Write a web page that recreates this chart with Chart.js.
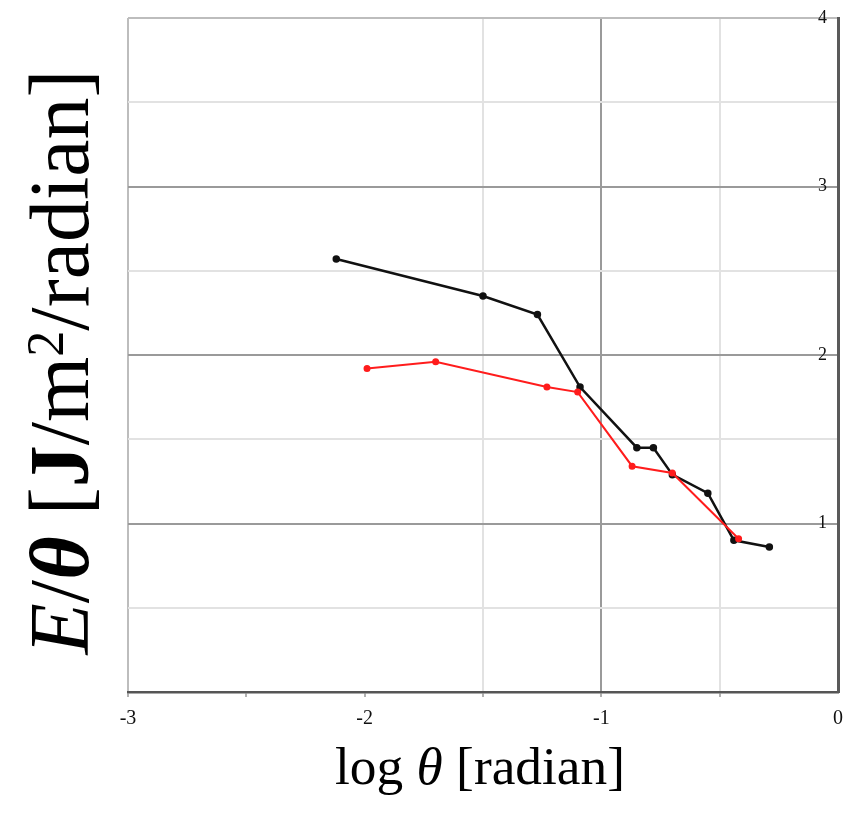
<!DOCTYPE html>
<html>
<head>
<meta charset="utf-8">
<script src="https://cdn.jsdelivr.net/npm/chart.js@4.4.1/dist/chart.umd.min.js"></script>
<style>
  html, body { margin: 0; padding: 0; background: #fff; }
  canvas { display: block; }
</style>
</head>
<body>
<canvas id="chart-energy" width="848" height="824"></canvas>
<script>
// log theta vs E/theta, two runs
const xBlack = [-2.12, -1.50, -1.27, -1.09, -0.85, -0.78, -0.70, -0.55, -0.44, -0.29];
const yBlack = [2.57, 2.35, 2.24, 1.81, 1.45, 1.45, 1.29, 1.18, 0.90, 0.86];
const xRed = [-1.99, -1.70, -1.23, -1.10, -0.87, -0.70, -0.42];
const yRed = [1.92, 1.96, 1.81, 1.78, 1.34, 1.30, 0.91];
const xTickLabels = [-3, -2, -1, 0];
const yTickLabels = [1, 2, 3, 4];

const SERIF = '"Liberation Serif", "DejaVu Serif", serif';

function toPoints(xs, ys) {
    return xs.map((x, i) => ({ x: x, y: ys[i] }));
}

// draws a run of text pieces with their own font styles, fitted to a width
function drawRich(ctx, segs, size, width) {
    const font = (s, sz) => (s.italic ? 'italic ' : '') + (s.bold ? 'bold ' : '') + sz + 'px ' + SERIF;
    const measure = (sz) => segs.reduce((w, s) => {
        ctx.font = font(s, s.sup ? sz * 0.62 : sz);
        return w + ctx.measureText(s.t).width;
    }, 0);
    if (width) size = size * width / measure(size);
    let x = -measure(size) / 2;
    segs.forEach(s => {
        const sz = s.sup ? size * 0.62 : size;
        ctx.font = font(s, sz);
        ctx.fillText(s.t, x, s.sup ? -size * 0.3 : 0);
        x += ctx.measureText(s.t).width;
    });
}

const axisTitles = {
    id: 'axisTitles',
    afterDraw(chart) {
        const ctx = chart.ctx;
        ctx.save();
        ctx.fillStyle = '#000';
        ctx.textBaseline = 'alphabetic';
        ctx.textAlign = 'left';

        ctx.save();
        ctx.translate(480, 784);
        drawRich(ctx, [
            { t: 'log ' }, { t: 'θ', italic: true }, { t: ' [radian]' }
        ], 40, 290);
        ctx.restore();

        ctx.save();
        ctx.translate(88, 362);
        ctx.rotate(-Math.PI / 2);
        drawRich(ctx, [
            { t: 'E', italic: true }, { t: '/' }, { t: 'θ', italic: true, bold: true },
            { t: ' [' }, { t: 'J', bold: true }, { t: '/m' }, { t: '2', sup: true },
            { t: '/radian]' }
        ], 56, 585);
        ctx.restore();

        ctx.restore();
    }
};

const ctx = document.getElementById('chart-energy').getContext('2d');

new Chart(ctx, {
    type: 'scatter',
    data: {
        datasets: [{
            label: 'red',
            data: toPoints(xRed, yRed),
            showLine: true,
            borderColor: '#ff1c1c',
            backgroundColor: '#ff1c1c',
            borderWidth: 2,
            pointRadius: 2.5,
            order: 0
        }, {
            label: 'black',
            data: toPoints(xBlack, yBlack),
            showLine: true,
            borderColor: '#111',
            backgroundColor: '#111',
            borderWidth: 2.5,
            pointRadius: 2.5,
            order: 1
        }]
    },
    options: {
        responsive: false,
        animation: false,
        devicePixelRatio: 1,
        layout: { padding: { left: 128, top: 18, right: 0, bottom: 0 } },
        plugins: {
            legend: { display: false },
            tooltip: { enabled: false }
        },
        scales: {
            x: {
                type: 'linear',
                position: 'bottom',
                min: -3,
                max: 0,
                afterFit: s => {
                    s.height = 132;
                    s.paddingLeft = 0;
                    s.paddingRight = 0;
                },
                ticks: {
                    stepSize: 0.5,
                    autoSkip: false,
                    maxRotation: 0,
                    padding: 10,
                    color: '#111',
                    font: { family: SERIF, size: 20 },
                    callback: v => xTickLabels.includes(v) ? String(v) : ''
                },
                grid: {
                    color: c => {
                        const v = c.tick ? c.tick.value : null;
                        if (v === -3) return '#bdbdbd';
                        if (v === -1) return '#9a9a9a';
                        if (v === -1.5 || v === -0.5) return '#e2e2e2';
                        return 'rgba(0,0,0,0)';
                    },
                    lineWidth: 2,
                    tickLength: 5,
                    tickColor: c => {
                        const v = c.tick ? c.tick.value : null;
                        return v === 0 ? 'rgba(0,0,0,0)' : '#b0b0b0';
                    }
                },
                border: { color: '#555', width: 2.5 }
            },
            y: {
                type: 'linear',
                position: 'right',
                min: 0,
                max: 4,
                afterFit: s => {
                    s.width = 10;
                    s.paddingTop = 0;
                    s.paddingBottom = 0;
                },
                ticks: {
                    stepSize: 0.5,
                    mirror: true,
                    padding: -11,
                    color: '#111',
                    font: { family: SERIF, size: 18 },
                    callback: v => yTickLabels.includes(v) ? String(v) : ''
                },
                grid: {
                    color: c => {
                        const v = c.tick ? c.tick.value : null;
                        if (v === 4) return '#bdbdbd';
                        if (Number.isInteger(v)) return '#9a9a9a';
                        return '#e2e2e2';
                    },
                    lineWidth: 2,
                    drawTicks: false
                },
                border: { color: '#5a5a5a', width: 3 }
            }
        }
    },
    plugins: [axisTitles]
});
</script>
</body>
</html>
